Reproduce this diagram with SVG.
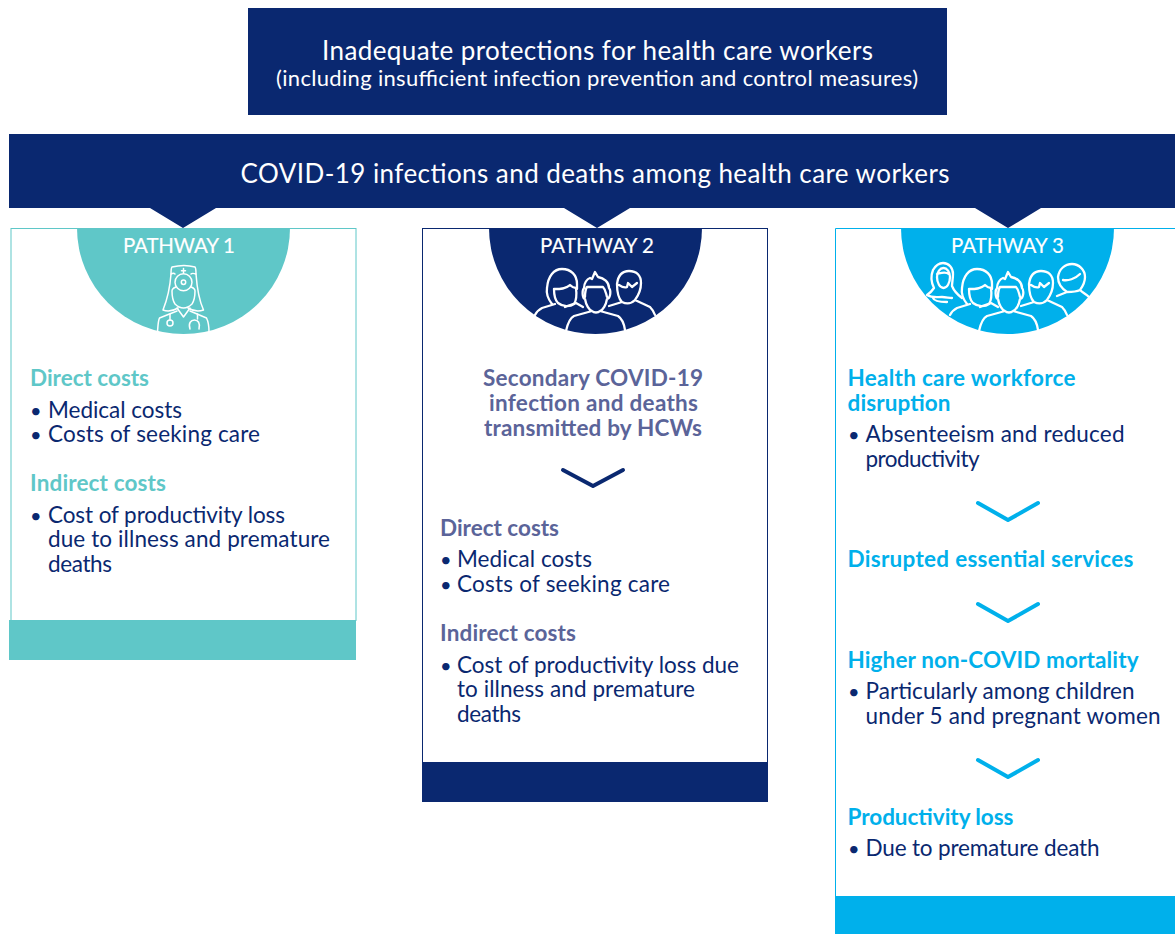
<svg xmlns="http://www.w3.org/2000/svg" width="1175" height="934" viewBox="0 0 1175 934">
<style>
text{font-family:"Lato","Liberation Sans",sans-serif;fill:#0a2870}
.w{fill:#fff}
.b{font-size:22.500px}
.h{font-size:22.500px;font-weight:700}
.d{font-size:20px}
.p{font-size:20.500px;fill:#fff;stroke:#fff;stroke-width:.15}
.t{fill:#5fc7c8}.n{fill:#5b6499}.c{fill:#00b0eb}
.i{fill:none;stroke:#fff;stroke-width:1.5;stroke-linecap:round;stroke-linejoin:round}
.i2{fill:none;stroke:#fff;stroke-width:2.300;stroke-linecap:round;stroke-linejoin:round}
.ch{fill:none;stroke-width:4;stroke-linecap:round;stroke-linejoin:round}
</style>
<defs>
<path id="woman" class="i2" d="M535 315C537 311 540 309 542 308L555 304M552 304C548 299 546 294 547 288C548 276 554 269 562 269C571 269 577 275 577 284C577 286 577 287 577 289M554 289C560 289 566 289 570 285C572 287 574 288 576 288C577 296 576 301 574 304C570 307 563 307 558 303C555 300 554 295 554 289ZM565 307C570 305 574 304 576 303L583 307"/>
<path id="centre" class="i2" d="M566 331C568 322 570 318 574 316L592 311C589 310 586 305 585 299C582 298 582 290 584 288C584 283 587 279 590 278L592 279L595 272L598 277C604 278 609 282 609 288C611 290 611 298 607 299C606 305 603 310 600 311L618 316C621 318 624 323 625 330M592 311C594 313 598 313 600 311M585 297C585 294 585 290 587 287H603C606 290 606 294 607 297"/>
<path id="man" class="i2" d="M609 306L622 302C619 299 617 292 617 284C618 276 622 271 629 271C637 271 641 276 641 283C641 290 638 296 635 300L650 307C652 309 654 312 655 315M619 285C622 287 625 288 627 287L628 283L632 287L637 283M622 302C626 304 631 304 635 300"/>
</defs>

<g id="top-box"><rect x="248" y="8" width="699" height="107" fill="#0a2870"/>
<text class="w" x="322" y="60" font-size="26" textLength="551">Inadequate protections for health care workers</text>
<text class="w" x="276" y="86" font-size="22" textLength="642">(including insufficient infection prevention and control measures)</text></g>

<g id="pathway-1">
<rect x="11" y="228.500" width="345" height="392" fill="#fff" stroke="#5fc7c8" stroke-width="1"/>
<rect x="9" y="620" width="347" height="40" fill="#5fc7c8"/>
<path d="M77 228A106.500 106 0 0 0 290 228Z" fill="#5fc7c8"/>
<text class="p" x="123" y="253" textLength="112">PATHWAY 1</text>
<g class="i">
<path d="M171 274C171 271 171 268 172 267C180 265 188 265 195 267C196 268 196 271 196 274C193 273 192 273 191 274M175 274C174 273 173 273 171 274"/>
<path d="M183.500 268.500V273M181.500 270.800H185.500"/>
<circle cx="183.500" cy="282.300" r="8.500"/><circle cx="183.500" cy="282.300" r="2.200"/>
<path d="M171 274C170 288 167 300 163 310C168 312 173 311 178 308M196 274C197 288 199 300 203.500 310C198 312 193 311 188 308"/>
<path d="M176 287C173 288 172 289 172 291C172 297 173 301 175 304C178 307 181 308 183.500 308C186 308 189 307 192 304C194 301 195 297 195 291C195 289 194 288 191 287"/>
<path d="M177 308L183.500 317L190 308M157.500 332C158 326 158 321 159.500 318L177 311M209 332C209 326 208 321 206.500 318L190 311"/>
<path d="M170 314V320M197.500 314V319"/><circle cx="170" cy="323" r="3"/>
<path d="M190 329C188 323 191 320 194.500 320C198 320 200.500 323 199 329"/>
</g>
<text class="h t" x="30" y="386" textLength="119">Direct costs</text>
<text class="d" x="30" y="418">•</text><text class="b" x="48" y="418" textLength="134">Medical costs</text>
<text class="d" x="30" y="442">•</text><text class="b" x="48" y="442" textLength="212">Costs of seeking care</text>
<text class="h t" x="30" y="491" textLength="136">Indirect costs</text>
<text class="d" x="30" y="523">•</text><text class="b" x="48" y="523" textLength="237">Cost of productivity loss</text>
<text class="b" x="48" y="547" textLength="282">due to illness and premature</text>
<text class="b" x="48" y="572" textLength="64">deaths</text>
</g>

<g id="pathway-2">
<rect x="422.500" y="228.500" width="345" height="534" fill="#fff" stroke="#0a2870" stroke-width="1"/>
<rect x="422" y="762" width="346" height="40" fill="#0a2870"/>
<path d="M489 228A106.500 106 0 0 0 702 228Z" fill="#0a2870"/>
<text class="p" x="540" y="253" textLength="114">PATHWAY 2</text>
<use href="#woman"/><use href="#centre"/><use href="#man"/>
<text class="h n" x="483" y="386" textLength="220">Secondary COVID-19</text>
<text class="h n" x="489" y="411" textLength="209">infection and deaths</text>
<text class="h n" x="484" y="436" textLength="218">transmitted by HCWs</text>
<path class="ch" d="M563 470L593 486L623 470" stroke="#0a2870"/>
<text class="h n" x="440" y="536" textLength="119">Direct costs</text>
<text class="d" x="440" y="567">•</text><text class="b" x="457" y="567" textLength="135">Medical costs</text>
<text class="d" x="440" y="592">•</text><text class="b" x="457" y="592" textLength="213">Costs of seeking care</text>
<text class="h n" x="440" y="641" textLength="136">Indirect costs</text>
<text class="d" x="440" y="673">•</text><text class="b" x="457" y="673" textLength="282">Cost of productivity loss due</text>
<text class="b" x="457" y="697" textLength="238">to illness and premature</text>
<text class="b" x="457" y="722" textLength="64">deaths</text>
</g>

<g id="pathway-3">
<path d="M1175 228.500H835.500V896" fill="#fff" stroke="#00b0eb" stroke-width="1"/>
<rect x="835" y="896" width="340" height="38" fill="#00b0eb"/>
<path d="M901 228A106.500 106 0 0 0 1114 228Z" fill="#00b0eb"/>
<text class="p" x="951" y="253" textLength="113">PATHWAY 3</text>
<g class="i2">
<path d="M927 295C930 293 932 291 934 288C931 282 931 275 933 270C936 265 940 263 943 263C949 263 953 268 953 274C953 279 952 283 952 286C954 291 958 295 962 298M927 295C932 298 936 297 942 297C946 297 949 298 952 298M933 298C934 301 938 302 947 302"/>
<path d="M937 277C937 272 940 268 943.500 268C947 268 950 272 950 277C950 283 947 288 943.500 288C940 288 937 283 937 277ZM937 274C941 273 945 271 949 274"/>
<path d="M1057 296L1067 292C1061 288 1058 283 1058 277C1059 269 1065 264 1072 264C1079 264 1085 270 1085 277C1085 282 1083 286 1080 290C1083 293 1086 294 1089 297M1063 280C1068 281 1075 279 1080 274M1067 292C1071 292 1076 292 1080 290"/>
</g>
<use href="#woman" x="415"/><use href="#centre" x="413"/><use href="#man" x="412"/>
<text class="h c" x="847.500" y="386" textLength="228">Health care workforce</text>
<text class="h c" x="847.500" y="411" textLength="103">disruption</text>
<text class="d" x="848" y="442">•</text><text class="b" x="865.500" y="442" textLength="259">Absenteeism and reduced</text>
<text class="b" x="865.500" y="467" textLength="114">productivity</text>
<path class="ch" d="M978 503L1008 520L1038 503" stroke="#00b0eb"/>
<text class="h c" x="847.500" y="567" textLength="286">Disrupted essential services</text>
<path class="ch" d="M978 604L1008 621L1038 604" stroke="#00b0eb"/>
<text class="h c" x="847.500" y="668" textLength="291">Higher non-COVID mortality</text>
<text class="d" x="848" y="699">•</text><text class="b" x="865.500" y="699" textLength="269">Particularly among children</text>
<text class="b" x="865.500" y="724" textLength="295">under 5 and pregnant women</text>
<path class="ch" d="M978 760L1008 777L1038 760" stroke="#00b0eb"/>
<text class="h c" x="847.500" y="825" textLength="166">Productivity loss</text>
<text class="d" x="848" y="856">•</text><text class="b" x="865.500" y="856" textLength="234">Due to premature death</text>
</g>

<g id="connectors">
<path d="M150 208H216L183 228Z M564 208H630L597 228Z M975 208H1041L1008 228Z" fill="#0a2870"/>
</g>
<g id="impact-band"><rect x="9" y="134" width="1166" height="74" fill="#0a2870"/>
<text class="w" x="240.500" y="183" font-size="26" textLength="709">COVID-19 infections and deaths among health care workers</text></g>
</svg>
